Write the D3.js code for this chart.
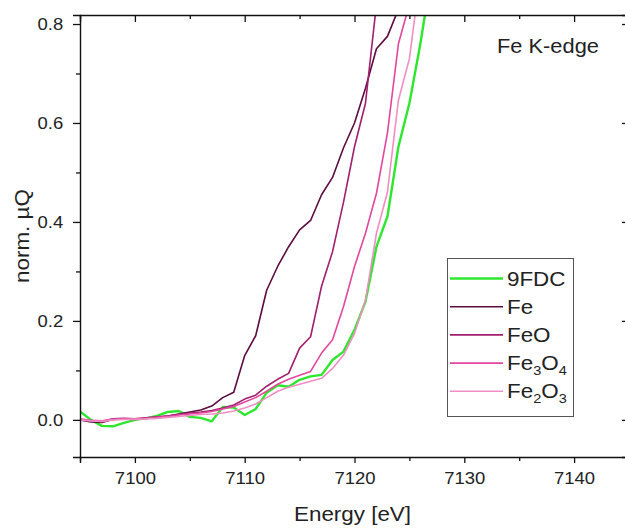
<!DOCTYPE html>
<html>
<head>
<meta charset="utf-8">
<script src="https://cdn.jsdelivr.net/npm/d3@7"></script>
<style>
  html, body { margin: 0; padding: 0; background: #fff; }
  svg { display: block; font-family: "Liberation Sans", Arial, sans-serif; }
</style>
</head>
<body>
<svg id="chart" width="625" height="528"></svg>
<script>
// Photon energy grid (eV)
const energy = [7095, 7096, 7097, 7098, 7099, 7100, 7101, 7102, 7103, 7104, 7105,
  7106, 7107, 7108, 7109, 7110, 7111, 7112, 7113, 7114, 7115, 7116, 7117, 7118,
  7119, 7120, 7121, 7122, 7123, 7124, 7125, 7126, 7127];

// Normalised absorption per sample (null once the trace has left the frame)
const s9FDC = [0.017, 0.000, -0.012, -0.013, -0.006, 0.000, 0.003, 0.008, 0.016, 0.018, 0.006,
  0.004, -0.003, 0.026, 0.025, 0.010, 0.022, 0.055, 0.070, 0.067, 0.081, 0.088, 0.091, 0.121,
  0.138, 0.182, 0.239, 0.350, 0.411, 0.552, 0.640, 0.760, 0.900];
const sFe = [0.000, -0.004, -0.005, 0.001, 0.002, 0.001, 0.003, 0.005, 0.008, 0.012, 0.016,
  0.020, 0.028, 0.045, 0.056, 0.130, 0.170, 0.262, 0.310, 0.350, 0.384, 0.403, 0.455, 0.490,
  0.550, 0.600, 0.670, 0.750, 0.775, 0.830, null, null, null];
const sFeO = [0.000, -0.002, -0.003, 0.002, 0.003, 0.002, 0.004, 0.006, 0.008, 0.011, 0.014,
  0.016, 0.019, 0.024, 0.030, 0.042, 0.050, 0.068, 0.082, 0.094, 0.145, 0.168, 0.270, 0.340,
  0.440, 0.552, 0.640, 0.840, null, null, null, null, null];
const sFe3O4 = [0.002, -0.001, -0.002, 0.001, 0.002, 0.002, 0.003, 0.005, 0.007, 0.010, 0.012,
  0.014, 0.017, 0.022, 0.027, 0.036, 0.045, 0.058, 0.072, 0.082, 0.090, 0.098, 0.135, 0.162,
  0.229, 0.310, 0.377, 0.458, 0.580, 0.760, 0.840, null, null];
const sFe2O3 = [0.000, -0.002, -0.003, 0.000, 0.001, 0.001, 0.002, 0.003, 0.005, 0.007, 0.009,
  0.011, 0.012, 0.014, 0.018, 0.024, 0.032, 0.045, 0.058, 0.066, 0.072, 0.078, 0.084, 0.104,
  0.131, 0.175, 0.242, 0.377, 0.460, 0.646, 0.730, 0.900, null];

const seriesNames = ["9FDC", "Fe", "FeO", "Fe3O4", "Fe2O3"];
const seriesValues = [s9FDC, sFe, sFeO, sFe3O4, sFe2O3];
const seriesColors = ["#2ee62e", "#5c0c40", "#a01f6e", "#e2479d", "#f08ec4"];
const seriesWidths = [2.4, 1.6, 1.6, 1.6, 1.6];

// Axis ticks
const xMajor = [7100, 7110, 7120, 7130, 7140];
const xMinor = [7095, 7105, 7115, 7125, 7135, 7145];
const yMajor = [0.0, 0.2, 0.4, 0.6, 0.8];
const yMinor = [0.1, 0.3, 0.5, 0.7];

const svg = d3.select("#chart");
const plotLeft = 80, plotRight = 629, plotTop = 15, plotBottom = 457;
const stretch = 1.12;

const x = d3.scaleLinear().domain([7095, 7145]).range([plotLeft, plotRight]);
const y = d3.scaleLinear().domain([-0.075, 0.8182]).range([plotBottom, plotTop]);

svg.append("defs").append("clipPath").attr("id", "plotClip")
  .append("rect").attr("x", plotLeft).attr("y", plotTop)
  .attr("width", plotRight - plotLeft).attr("height", plotBottom - plotTop);

// Curves
const line = d3.line()
  .defined(d => d[1] != null)
  .x(d => x(d[0]))
  .y(d => y(d[1]));

const curves = svg.append("g").attr("clip-path", "url(#plotClip)");
seriesValues.forEach((vals, i) => {
  curves.append("path")
    .datum(energy.map((e, k) => [e, vals[k]]))
    .attr("fill", "none")
    .attr("stroke", seriesColors[i])
    .attr("stroke-width", seriesWidths[i])
    .attr("stroke-linejoin", "round")
    .attr("d", line);
});

// Axes
function styleAxis(g) {
  g.select(".domain").attr("stroke", "#111").attr("stroke-width", 1.4);
  g.selectAll(".tick line").attr("stroke", "#111").attr("stroke-width", 1.3);
}

const gx = svg.append("g").attr("transform", `translate(0,${plotBottom})`)
  .call(d3.axisBottom(x).tickValues(xMajor).tickSize(6).tickPadding(9).tickFormat(d3.format("d")))
  .call(styleAxis);
gx.selectAll("text").attr("font-size", 16.5).attr("fill", "#222")
  .attr("font-family", "Liberation Sans, Arial, sans-serif")
  .attr("transform", `scale(${stretch},1)`);

svg.append("g").attr("transform", `translate(0,${plotBottom})`)
  .call(d3.axisBottom(x).tickValues(xMinor).tickSize(4).tickFormat(""))
  .call(styleAxis).select(".domain").remove();

const gy = svg.append("g").attr("transform", `translate(${plotLeft},0)`)
  .call(d3.axisLeft(y).tickValues(yMajor).tickSize(7).tickPadding(8).tickFormat(d3.format(".1f")))
  .call(styleAxis);
gy.selectAll("text").attr("font-size", 16.5).attr("fill", "#222")
  .attr("font-family", "Liberation Sans, Arial, sans-serif")
  .attr("transform", `scale(${stretch},1)`)
  .attr("x", -15);

svg.append("g").attr("transform", `translate(${plotLeft},0)`)
  .call(d3.axisLeft(y).tickValues(yMinor).tickSize(4).tickFormat(""))
  .call(styleAxis).select(".domain").remove();

// Mirror axes: top and right, ticks pointing inward
svg.append("g").attr("transform", `translate(0,${plotTop})`)
  .call(d3.axisTop(x).tickValues(xMajor).tickSize(-7).tickFormat(""))
  .call(styleAxis);
svg.append("g").attr("transform", `translate(0,${plotTop})`)
  .call(d3.axisTop(x).tickValues(xMinor).tickSize(-4).tickFormat(""))
  .call(styleAxis).select(".domain").remove();
svg.append("g").attr("transform", `translate(${plotRight},0)`)
  .call(d3.axisRight(y).tickValues(yMajor).tickSize(-7).tickFormat(""))
  .call(styleAxis);
svg.append("g").attr("transform", `translate(${plotRight},0)`)
  .call(d3.axisRight(y).tickValues(yMinor).tickSize(-4).tickFormat(""))
  .call(styleAxis).select(".domain").remove();

// Axis titles
svg.append("text")
  .attr("transform", `translate(${(plotLeft + plotRight) / 2 - 2},521) scale(${stretch},1)`)
  .attr("text-anchor", "middle").attr("font-size", 20).attr("fill", "#222")
  .text("Energy [eV]");

svg.append("text")
  .attr("transform", `translate(29,${(plotTop + plotBottom) / 2}) rotate(-90) scale(${stretch},1)`)
  .attr("text-anchor", "middle").attr("font-size", 20).attr("fill", "#222")
  .text("norm. µQ");

// Edge annotation
svg.append("text")
  .attr("transform", `translate(497,53) scale(${stretch},1)`)
  .attr("font-size", 19.5).attr("fill", "#222")
  .text("Fe K-edge");

// Legend
const legend = svg.append("g");
legend.append("rect")
  .attr("x", 447.5).attr("y", 258.5).attr("width", 126).attr("height", 158)
  .attr("fill", "#fff").attr("stroke", "#555").attr("stroke-width", 1);

const legendRows = [
  [{ t: "9FDC" }],
  [{ t: "Fe" }],
  [{ t: "FeO" }],
  [{ t: "Fe" }, { t: "3", sub: true }, { t: "O" }, { t: "4", sub: true }],
  [{ t: "Fe" }, { t: "2", sub: true }, { t: "O" }, { t: "3", sub: true }]
];

seriesNames.forEach((name, i) => {
  const ly = 278.5 + i * 28.2;
  legend.append("line")
    .attr("x1", 450).attr("x2", 503).attr("y1", ly).attr("y2", ly)
    .attr("stroke", seriesColors[i]).attr("stroke-width", seriesWidths[i]);
  const t = legend.append("text")
    .attr("transform", `translate(507,${ly + 7}) scale(${stretch},1)`)
    .attr("font-size", 20).attr("fill", "#222");
  legendRows[i].forEach((part, k) => {
    const ts = t.append("tspan").text(part.t);
    if (part.sub) ts.attr("font-size", 13).attr("dy", 5);
    else if (k > 0) ts.attr("dy", -5);
  });
});
</script>
</body>
</html>
